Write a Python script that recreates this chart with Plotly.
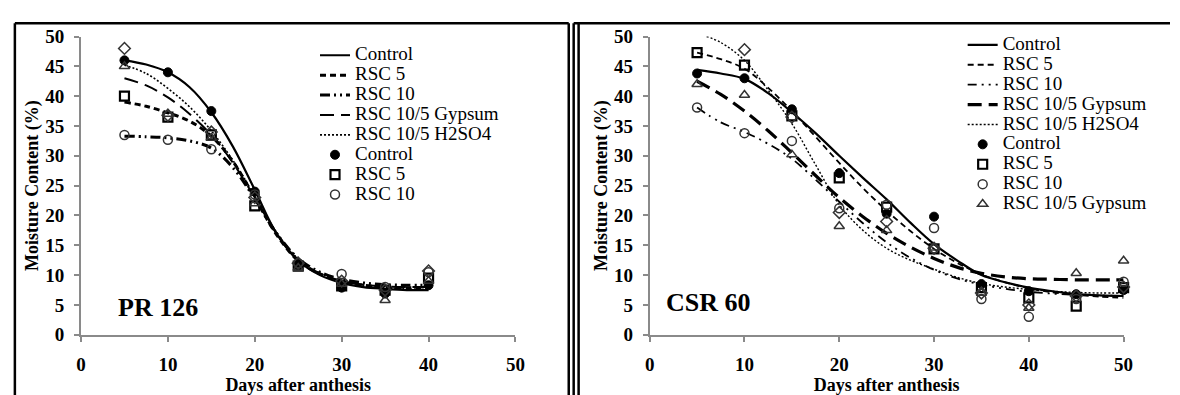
import plotly.graph_objects as go

# ---------------- PR 126 (left panel) ----------------
days_pts_L = [5, 10, 15, 20, 25, 30, 35, 40]
ctrl_pts_L = [46.0, 44.0, 37.5, 24.0, 11.6, 7.9, 6.9, 8.3]
rsc5_pts_L = [40.0, 36.5, 33.5, 21.6, 11.5, 8.2, 7.5, 9.5]
rsc10_pts_L = [33.5, 32.7, 31.1, 23.5, 12.0, 10.2, 8.0, 10.5]
gyp_pts_L = [45.0, 37.0, 33.0, 22.0, 11.2, 8.5, 5.8, 9.0]
h2so4_pts_L = [48.0, 36.8, 34.0, 23.0, 12.0, 9.0, 7.5, 10.7]

days_fit_L = [5, 7.5, 10, 12.5, 15, 17.5, 20, 22.5, 25, 27.5, 30, 32.5, 35, 37.5, 40]
ctrl_fit_L = [46.0, 45.3, 44.0, 41.5, 37.3, 31.5, 24.3, 17.0, 12.4, 10.0, 8.7, 8.0, 7.7, 7.5, 7.5]
rsc5_fit_L = [39.0, 38.3, 37.2, 35.8, 33.3, 29.0, 23.0, 16.8, 12.4, 10.2, 9.0, 8.3, 8.0, 7.9, 7.9]
rsc10_fit_L = [33.3, 33.2, 33.0, 32.5, 31.3, 28.0, 22.8, 17.0, 12.8, 10.5, 9.3, 8.7, 8.4, 8.3, 8.3]
gyp_fit_L = [43.0, 41.8, 39.8, 37.0, 33.5, 28.8, 23.0, 17.0, 12.6, 10.3, 9.0, 8.4, 8.1, 8.0, 8.0]
h2so4_fit_L = [45.2, 43.8, 41.3, 38.2, 34.2, 29.2, 23.3, 17.2, 12.7, 10.3, 9.0, 8.3, 7.9, 7.7, 7.6]

# ---------------- CSR 60 (right panel) ----------------
days_pts_R = [5, 10, 15, 20, 25, 30, 35, 40, 45, 50]
ctrl_pts_R = [43.8, 43.0, 37.8, 27.1, 20.3, 19.8, 8.5, 7.3, 6.8, 7.5]
rsc5_pts_R = [47.3, 45.2, 36.7, 26.3, 21.4, 14.4, 7.9, 6.2, 4.8, 7.9]
rsc10_pts_R = [38.1, 33.8, 32.5, 21.2, 21.8, 17.9, 6.0, 3.0, 6.0, 8.9]
gyp_pts_R = [42.0, 40.2, 30.2, 18.2, 17.5, 14.6, 7.0, 4.5, 10.3, 12.4]
h2so4_pts_R = [None, 47.8, 36.5, 20.5, 19.0, 14.5, 7.0, 5.0, 6.5, 8.0]

days_fit_R = [5, 7.5, 10, 12.5, 15, 17.5, 20, 22.5, 25, 27.5, 30, 32.5, 35, 37.5, 40, 42.5, 45, 47.5, 50]
ctrl_fit_R = [44.4, 43.8, 42.9, 40.5, 37.3, 33.8, 30.0, 26.3, 22.7, 18.8, 15.2, 12.4, 10.0, 8.8, 7.9, 7.3, 6.8, 6.6, 6.5]
rsc5_fit_R = [47.3, 46.2, 44.6, 41.4, 37.5, 33.2, 28.8, 24.6, 20.8, 17.4, 14.4, 12.0, 10.1, 8.8, 7.8, 7.1, 6.7, 6.4, 6.2]
rsc10_fit_R = [38.1, 35.6, 34.0, 32.0, 29.5, 26.0, 22.3, 18.7, 15.5, 12.9, 10.9, 9.4, 8.4, 7.7, 7.2, 6.9, 6.7, 6.6, 6.5]
gyp_fit_R = [42.5, 40.3, 37.5, 34.2, 30.5, 26.7, 23.0, 19.8, 17.0, 14.7, 12.8, 11.3, 10.3, 9.7, 9.4, 9.3, 9.2, 9.2, 9.2]
days_fit_R_h2so4 = [6, 7.5, 10, 12.5, 15, 17.5, 20, 22.5, 25, 27.5, 30, 32.5, 35, 37.5, 40, 42.5, 45, 47.5, 50]
h2so4_fit_R = [50.0, 49.0, 46.0, 41.0, 35.4, 28.5, 21.8, 17.5, 14.5, 12.5, 11.0, 9.6, 8.6, 8.0, 7.6, 7.3, 7.1, 7.0, 7.0]

line_names = ["Control", "RSC 5", "RSC 10", "RSC 10/5 Gypsum", "RSC 10/5 H2SO4"]
x_ticks = [0, 10, 20, 30, 40, 50]
y_ticks = [0, 5, 10, 15, 20, 25, 30, 35, 40, 45, 50]
panel_labels = ["PR 126", "CSR 60"]

FONT = "Liberation Serif, Times New Roman, Times, serif"
W, H = 1180, 395


def nm(s):
    return '<span style="font-size:19px;font-family:Liberation Serif, Times New Roman, serif">' + s + '</span>'


fig = go.Figure()

styles_L = [
    dict(width=2.2, dash="solid"),
    dict(width=3.0, dash="6px,4px"),
    dict(width=3.0, dash="10px,4px,2px,4px,2px,4px"),
    dict(width=2.0, dash="14px,7px"),
    dict(width=1.6, dash="2px,2px"),
]
styles_R = [
    dict(width=2.2, dash="solid"),
    dict(width=1.8, dash="6px,4px"),
    dict(width=1.8, dash="9px,5px,2px,5px,2px,5px"),
    dict(width=3.2, dash="14px,7px"),
    dict(width=1.4, dash="2px,2px"),
]

fits_L = [ctrl_fit_L, rsc5_fit_L, rsc10_fit_L, gyp_fit_L, h2so4_fit_L]
fits_R = [ctrl_fit_R, rsc5_fit_R, rsc10_fit_R, gyp_fit_R, h2so4_fit_R]
fit_days_R = [days_fit_R, days_fit_R, days_fit_R, days_fit_R, days_fit_R_h2so4]

for name, ys, st in zip(line_names, fits_L, styles_L):
    fig.add_trace(go.Scatter(x=days_fit_L, y=ys, mode="lines", name=nm(name),
                             line=dict(color="black", shape="spline", **st),
                             xaxis="x", yaxis="y", legend="legend", hoverinfo="skip"))

for name, xs, ys, st in zip(line_names, fit_days_R, fits_R, styles_R):
    fig.add_trace(go.Scatter(x=xs, y=ys, mode="lines", name=nm(name),
                             line=dict(color="black", shape="spline", **st),
                             xaxis="x2", yaxis="y2", legend="legend2", hoverinfo="skip"))

marker_specs = [
    ("Control", "circle", "black", 1.0),
    ("RSC 5", "square-open", "black", 2.2),
    ("RSC 10", "circle-open", "#333333", 1.5),
    ("RSC 10/5 Gypsum", "triangle-up-open", "#333333", 1.5),
    ("RSC 10/5 H2SO4", "diamond-open", "#333333", 1.5),
]
pts_L = [ctrl_pts_L, rsc5_pts_L, rsc10_pts_L, gyp_pts_L, h2so4_pts_L]
pts_R = [ctrl_pts_R, rsc5_pts_R, rsc10_pts_R, gyp_pts_R, h2so4_pts_R]
show_L = [True, True, True, False, False]
show_R = [True, True, True, True, False]

for (name, sym, col, lw), ys, sh in zip(marker_specs, pts_L, show_L):
    fig.add_trace(go.Scatter(x=days_pts_L, y=ys, mode="markers", name=nm(name),
                             marker=dict(symbol=sym, size=9, color=col, line=dict(color=col, width=lw)),
                             showlegend=sh, cliponaxis=False, xaxis="x", yaxis="y", legend="legend"))

for (name, sym, col, lw), ys, sh in zip(marker_specs, pts_R, show_R):
    fig.add_trace(go.Scatter(x=days_pts_R, y=ys, mode="markers", name=nm(name),
                             marker=dict(symbol=sym, size=9, color=col, line=dict(color=col, width=lw)),
                             showlegend=sh, cliponaxis=False, xaxis="x2", yaxis="y2", legend="legend2"))


def px_x(p):
    return p / W


def px_y(p):
    return (H - p) / H


axis_common = dict(showgrid=False, zeroline=False, showline=True, linecolor="#8a8a8a", linewidth=2,
                   ticks="outside", tickcolor="#8a8a8a", ticklen=5, tickwidth=1.5, ticklabelstandoff=6,
                   tickfont=dict(family=FONT, size=19, color="black", weight="bold"))

xa = dict(axis_common, range=[0, 50], tickvals=x_ticks,
          title=dict(text="<b>Days after anthesis</b>", font=dict(family=FONT, size=18, color="black"), standoff=0))
ya = dict(axis_common, range=[0, 50], tickvals=y_ticks,
          title=dict(text="<b>Moisture Content (%)</b>", font=dict(family=FONT, size=18, color="black"), standoff=2))

fig.update_layout(
    width=W, height=H, margin=dict(l=0, r=0, t=0, b=0),
    paper_bgcolor="white", plot_bgcolor="white",
    font=dict(family=FONT, color="black"),
    xaxis=dict(xa, domain=[px_x(77), px_x(517)], anchor="y"),
    yaxis=dict(ya, domain=[px_y(343), px_y(28)], anchor="x"),
    xaxis2=dict(xa, domain=[px_x(653), px_x(1133)], anchor="y2"),
    yaxis2=dict(ya, domain=[px_y(343), px_y(28)], anchor="x2"),
    legend=dict(x=px_x(314), y=px_y(32), xanchor="left", yanchor="top",
                font=dict(family=FONT, size=13, color="black"), bgcolor="rgba(0,0,0,0)",
                itemwidth=30, tracegroupgap=0),
    legend2=dict(x=px_x(970), y=px_y(21), xanchor="left", yanchor="top",
                 font=dict(family=FONT, size=13, color="black"), bgcolor="rgba(0,0,0,0)",
                 itemwidth=30, tracegroupgap=0),
    showlegend=True,
)

fig.add_annotation(x=4.0, y=4.6, xref="x", yref="y", text="<b>" + panel_labels[0] + "</b>", showarrow=False,
                   xanchor="left", yanchor="middle", font=dict(family=FONT, size=26, color="black"))
fig.add_annotation(x=1.5, y=5.4, xref="x2", yref="y2", text="<b>" + panel_labels[1] + "</b>", showarrow=False,
                   xanchor="left", yanchor="middle", font=dict(family=FONT, size=26, color="black"))

frame = dict(type="line", xref="paper", yref="paper", line=dict(color="black", width=2.5))
fig.add_shape(frame, x0=px_x(10), x1=px_x(10), y0=-0.05, y1=px_y(14))
fig.add_shape(frame, x0=px_x(10), x1=px_x(571), y0=px_y(14), y1=px_y(14))
fig.add_shape(frame, x0=px_x(571), x1=px_x(571), y0=-0.05, y1=px_y(14))
fig.add_shape(frame, x0=px_x(576), x1=px_x(576), y0=-0.05, y1=px_y(14))
fig.add_shape(frame, x0=px_x(581), x1=px_x(581), y0=-0.05, y1=px_y(14))
fig.add_shape(frame, x0=px_x(576), x1=1.0, y0=px_y(14), y1=px_y(14))

fig.write_html("out.html")
